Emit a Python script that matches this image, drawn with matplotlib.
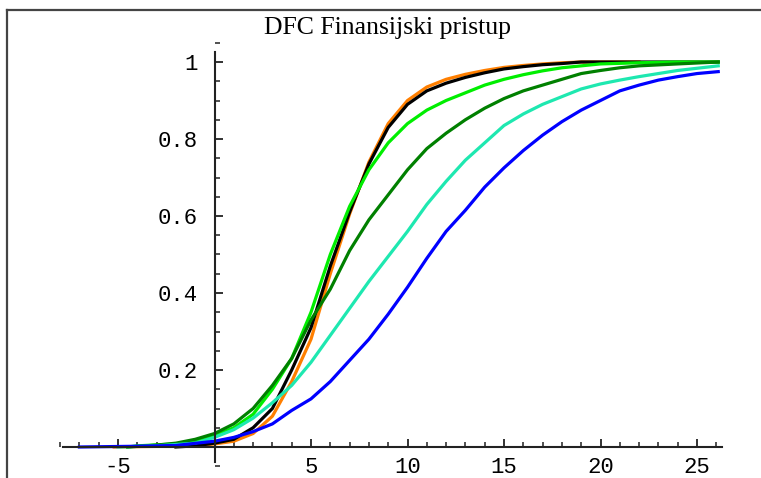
import matplotlib
matplotlib.use("Agg")
import matplotlib.pyplot as plt
from matplotlib.lines import Line2D
from matplotlib.ticker import MultipleLocator, FixedLocator

x_blue = [-7.0, -4.0, -2.0, 0, 1, 2, 3, 4, 5, 6, 7, 8, 9, 10, 11, 12, 13, 14, 15, 16, 17, 18, 19, 20, 21, 22, 23, 24, 25, 26.1]
y_blue = [0.0, 0.002, 0.004, 0.015, 0.025, 0.04, 0.06, 0.095, 0.125, 0.17, 0.225, 0.28, 0.345, 0.415, 0.49, 0.56, 0.615, 0.675, 0.725, 0.77, 0.81, 0.845, 0.875, 0.90, 0.925, 0.94, 0.953, 0.962, 0.97, 0.975]

x_aqua = [-5.0, -3.0, -1, 0, 1, 2, 3, 4, 5, 6, 7, 8, 9, 10, 11, 12, 13, 14, 15, 16, 17, 18, 19, 20, 21, 22, 24, 26.1]
y_aqua = [0.0, 0.003, 0.01, 0.025, 0.045, 0.075, 0.115, 0.16, 0.22, 0.29, 0.36, 0.43, 0.495, 0.56, 0.63, 0.69, 0.745, 0.79, 0.835, 0.865, 0.89, 0.91, 0.93, 0.943, 0.953, 0.962, 0.978, 0.99]

x_dgreen = [-4.5, -3, -2, -1, 0, 1, 2, 3, 4, 5, 6, 7, 8, 9, 10, 11, 12, 13, 14, 15, 16, 17, 18, 19, 20, 21, 22, 24, 26.1]
y_dgreen = [0.0, 0.005, 0.01, 0.02, 0.035, 0.06, 0.10, 0.16, 0.23, 0.33, 0.41, 0.51, 0.59, 0.655, 0.72, 0.775, 0.815, 0.85, 0.88, 0.905, 0.925, 0.94, 0.955, 0.97, 0.978, 0.985, 0.99, 0.995, 1.0]

x_green = [-4.5, -4, -2, -1, 0, 1, 2, 3, 4, 5, 6, 7, 8, 9, 10, 11, 12, 13, 14, 15, 16, 17, 18, 19, 20, 22, 24, 26.1]
y_green = [0.0, 0.003, 0.008, 0.015, 0.03, 0.05, 0.085, 0.15, 0.23, 0.35, 0.50, 0.625, 0.72, 0.79, 0.84, 0.875, 0.90, 0.92, 0.94, 0.955, 0.967, 0.977, 0.985, 0.99, 0.995, 0.998, 1.0, 1.0]

x_black = [-2.0, -1, 0, 1, 2, 3, 4, 5, 6, 7, 8, 9, 10, 11, 12, 13, 14, 15, 16, 17, 18, 19, 20, 22, 26.1]
y_black = [0.0, 0.003, 0.01, 0.02, 0.05, 0.10, 0.20, 0.31, 0.47, 0.61, 0.735, 0.83, 0.89, 0.925, 0.945, 0.96, 0.972, 0.982, 0.988, 0.993, 0.996, 1.0, 1.0, 1.0, 1.0]

x_orange = [-5.2, -1, 0, 1, 2, 3, 4, 5, 6, 7, 8, 9, 10, 11, 12, 13, 14, 15, 16, 17, 18, 19, 20, 22]
y_orange = [0.0, 0.003, 0.008, 0.015, 0.035, 0.08, 0.17, 0.28, 0.45, 0.605, 0.74, 0.84, 0.90, 0.935, 0.955, 0.968, 0.978, 0.986, 0.991, 0.995, 0.998, 1.0, 1.0, 1.0]

y_ticks = [0.2, 0.4, 0.6, 0.8, 1.0]
y_ticklabels = ["0.2", "0.4", "0.6", "0.8", "1"]
x_ticks = [-5, 5, 10, 15, 20, 25]
x_ticklabels = ["-5", "5", "10", "15", "20", "25"]
title = "DFC Finansijski pristup"

# ---- figure ----
W, H = 761, 478
fig = plt.figure(figsize=(W / 100, H / 100), dpi=100)
# axes placed so that x=0 -> px 214.5, 19.3 px/unit ; y=0 -> px 447, 385 px/unit
x0, x1 = -8.0, 26.5
y0, y1 = -0.05, 1.06
left_px = 214.5 + 19.3 * x0
right_px = 214.5 + 19.3 * x1
bot_px = 447 - 385 * y0
top_px = 447 - 385 * y1
ax = fig.add_axes([left_px / W, (H - bot_px) / H, (right_px - left_px) / W, (bot_px - top_px) / H])
ax.set_xlim(x0, x1)
ax.set_ylim(y0, y1)
ax.patch.set_alpha(0)

lw = 2.3
ax.plot(x_orange, y_orange, color="#ff7f00", lw=lw)
ax.plot(x_black, y_black, color="black", lw=lw)
ax.plot(x_green, y_green, color="#00ee00", lw=lw)
ax.plot(x_dgreen, y_dgreen, color="#008000", lw=lw)
ax.plot(x_aqua, y_aqua, color="#1ee8b0", lw=lw)
ax.plot(x_blue, y_blue, color="#0000ff", lw=lw)

for s in ("top", "right"):
    ax.spines[s].set_visible(False)
ax.spines["left"].set_position(("data", 0))
ax.spines["bottom"].set_position(("data", 0))
ax.spines["left"].set_bounds(-0.04, 1.026)
ax.spines["bottom"].set_bounds(-7.85, 26.3)
for s in ("left", "bottom"):
    ax.spines[s].set_linewidth(1.5)
    ax.spines[s].set_color("#222222")

mono = "Liberation Mono"
ax.xaxis.set_major_locator(FixedLocator(x_ticks))
ax.xaxis.set_minor_locator(MultipleLocator(1))
ax.set_xticklabels(x_ticklabels, fontfamily=mono, fontsize=16)
ax.yaxis.set_major_locator(FixedLocator(y_ticks))
ax.yaxis.set_minor_locator(MultipleLocator(0.05))
ax.set_yticklabels(y_ticklabels, fontfamily=mono, fontsize=16)
ax.tick_params(axis="both", which="major", direction="in", length=6, width=1.3, color="#222222")
ax.tick_params(axis="both", which="minor", direction="in", length=3.5, width=1.1, color="#222222")
ax.tick_params(axis="x", which="major", pad=7)
ax.tick_params(axis="y", which="major", pad=12)

fig.text(388 / W, 1 - 28 / H, title, ha="center", va="center",
         fontfamily="Liberation Serif", fontsize=18.5)

# outer frame (left and top edges visible)
fig.add_artist(Line2D([7 / W, 7 / W], [0, 1 - 10 / H], transform=fig.transFigure, color="#444444", lw=1.6))
fig.add_artist(Line2D([7 / W, 1], [1 - 10 / H, 1 - 10 / H], transform=fig.transFigure, color="#444444", lw=1.6))

fig.savefig("out.png", dpi=100)
